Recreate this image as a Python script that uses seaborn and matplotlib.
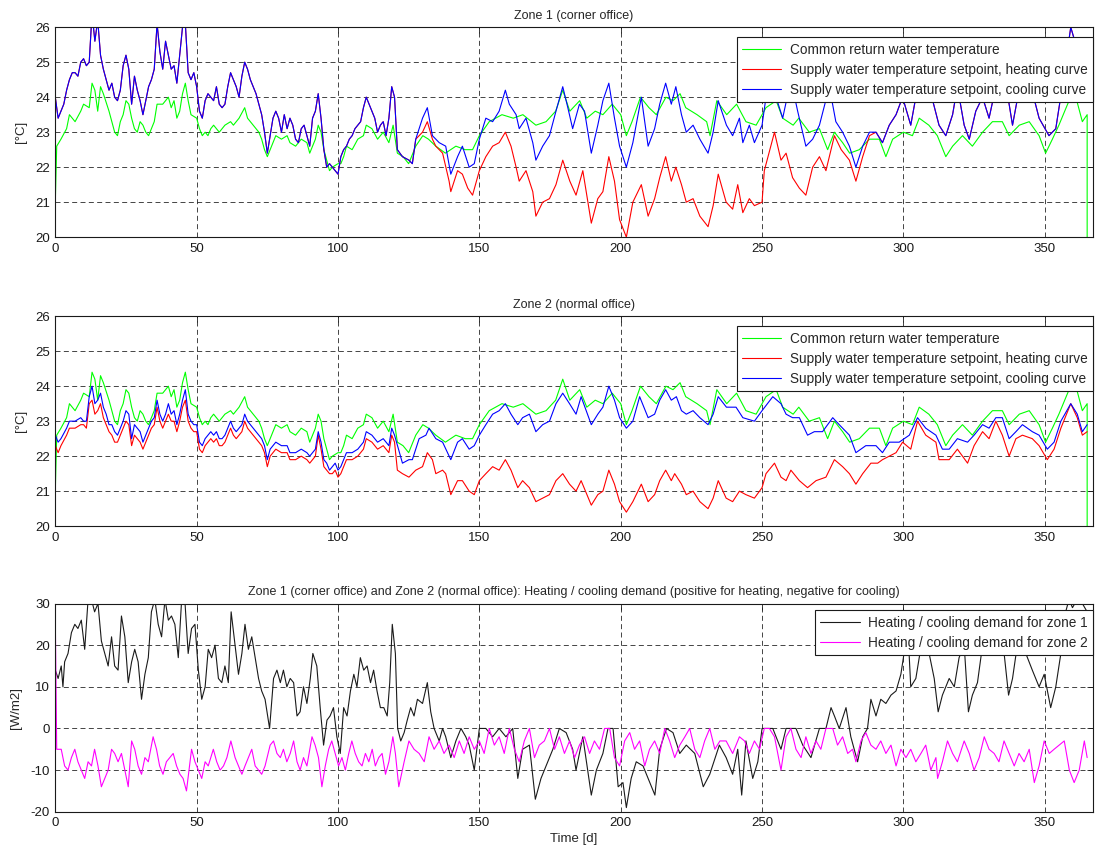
import numpy as np
import matplotlib
matplotlib.use("Agg")
import matplotlib.pyplot as plt
import seaborn as sns

# ---- data (time in days) ----

# common return water temperature (same in zone 1 and zone 2 plots)
ret_day = [0, 0.5, 2, 4, 5, 7, 9, 10, 12, 13,
           14, 15, 16, 17, 19, 20, 21, 22, 23, 24,
           25, 26, 27, 28, 29, 30, 31, 32, 33, 34,
           35, 36, 38, 40, 41, 42, 43, 44, 45, 46,
           47, 48, 50, 51, 52, 53, 54, 55, 56, 58,
           59, 60, 62, 63, 65, 67, 68, 70, 72, 73,
           74, 75, 76, 77, 78, 80, 82, 83, 85, 87,
           89, 90, 92, 93, 94, 95, 96, 97, 98, 100,
           101, 102, 103, 105, 107, 109, 110, 112, 114, 116,
           118, 119.5, 121, 123, 125, 127.5, 130, 132, 134.6, 138,
           141.7, 145, 147.6, 150, 153.5, 158, 162, 165.4, 170, 173.6,
           177, 179.5, 182, 185.5, 188, 191, 193.7, 197, 200, 202,
           204, 207, 210, 212.6, 216, 218.5, 221, 223, 227, 230.4,
           231.6, 234, 237.5, 241, 244.3, 247.9, 251.4, 255, 257.3, 261,
           263, 266.7, 270.3, 273.2, 275.6, 278.5, 281, 284.4, 288, 291.5,
           293.8, 296.2, 300, 303.2, 305.6, 309, 312, 315, 317.4, 320.9,
           324.4, 328, 331.5, 335, 337.4, 341, 344.5, 348, 350.3, 352.7,
           355, 358.6, 361, 363.3, 365, 365]
ret_val = [21.0, 22.6, 22.8, 23.1, 23.5, 23.3, 23.6, 23.8, 23.7, 24.4,
           24.2, 23.6, 24.3, 24.1, 23.6, 23.3, 23.0, 22.9, 23.3, 23.5,
           23.9, 23.8, 23.4, 23.1, 23.0, 23.3, 23.2, 23.0, 22.9, 23.1,
           23.3, 23.8, 23.8, 24.0, 23.7, 23.9, 23.4, 23.6, 24.1, 24.4,
           23.9, 23.5, 23.4, 23.1, 22.9, 23.0, 22.9, 23.1, 23.2, 23.0,
           23.1, 23.2, 23.3, 23.2, 23.4, 23.7, 23.4, 23.2, 23.0, 22.8,
           22.5, 22.3, 22.5, 22.7, 22.9, 22.8, 22.9, 22.7, 22.6, 22.8,
           22.7, 22.4, 22.8, 23.2, 23.0, 22.5, 22.2, 21.9, 22.0, 22.1,
           22.1, 22.3, 22.6, 22.5, 22.8, 22.9, 23.2, 23.1, 22.8, 23.0,
           22.7, 23.2, 22.4, 22.3, 22.1, 22.6, 22.9, 22.8, 22.6, 22.4,
           22.6, 22.5, 22.5, 22.9, 23.3, 23.5, 23.4, 23.5, 23.2, 23.3,
           23.6, 24.2, 23.6, 23.9, 23.4, 23.6, 23.5, 23.8, 23.5, 22.9,
           23.3, 24.0, 23.7, 23.5, 24.0, 23.9, 24.1, 23.7, 23.5, 23.3,
           22.9, 23.9, 23.5, 23.8, 23.3, 23.2, 23.7, 23.9, 23.4, 23.2,
           23.4, 23.0, 23.1, 22.5, 23.0, 22.7, 22.4, 22.5, 22.8, 22.8,
           22.3, 22.8, 23.0, 22.9, 23.4, 23.2, 22.9, 22.3, 22.6, 22.9,
           22.6, 23.0, 23.3, 23.3, 22.9, 23.2, 23.3, 22.9, 22.4, 22.8,
           23.2, 23.9, 24.0, 23.3, 23.5, 20.0]

# zone 1: cooling curve setpoint (daily values first, then read points)
cool1_day = list(range(121)) + [
    121, 122.8, 125.1, 126.3, 127.5, 129.9, 131.6, 133.4, 135.8, 138.1,
    139.9, 142.3, 144, 146.4, 148.2, 150, 152.3, 154.7, 157, 159.2,
    160.6, 163, 164.1, 166.5, 168.9, 170, 172.4, 174.8, 177.1, 179.5,
    181.3, 183, 185.4, 187.2, 189.6, 191.9, 193.7, 195.8, 197.8, 199.6,
    202, 204.3, 207.3, 209.7, 212, 213.8, 215.9, 217.9, 219.5, 221.5,
    223.2, 225.6, 228, 230.9, 232.7, 234.5, 237.4, 239.6, 242, 243.2,
    245.5, 247.3, 250, 251.4, 253.8, 257.3, 260.2, 262.6, 265.5, 267.9,
    270.3, 273.8, 276.1, 278.5, 280.9, 283.2, 285.6, 288, 290.3, 292.6,
    295, 297.4, 299.7, 302.6, 304.4, 306.8, 309.1, 312.6, 315, 317.4,
    319.1, 321.5, 323.3, 325.6, 328, 330.3, 332.7, 336.2, 338.6, 340.9,
    344.5, 348, 351.5, 353.9, 356.2, 359.2, 361, 363.3, 365]
cool1_val = [
    24.0, 23.4, 23.6, 23.8, 24.2, 24.5, 24.7, 24.7, 24.6, 25.0,
    25.1, 24.9, 25.0, 26.4, 25.6, 26.2, 25.2, 24.8, 24.5, 24.2,
    24.4, 24.0, 23.9, 24.2, 24.9, 25.2, 24.8, 23.8, 24.6, 24.2,
    23.9, 23.5, 23.9, 24.3, 24.5, 24.8, 26.1, 25.3, 24.8, 25.6,
    25.2, 24.8, 24.9, 24.4, 25.2, 26.0, 26.1, 24.7, 24.5, 24.7,
    24.3, 23.6, 23.4, 23.9, 24.1, 24.0, 23.9, 24.3, 23.8, 23.7,
    23.8, 24.3, 24.7, 24.5, 24.3, 24.0, 24.6, 25.0, 24.8, 24.5,
    24.3, 24.1, 23.8, 23.5, 23.0, 22.4, 22.9, 23.4, 23.6, 23.4,
    23.0, 23.5, 23.1, 23.4, 23.2, 22.8, 22.7, 23.1, 23.2, 22.9,
    22.6, 23.4, 23.6, 24.1, 23.4, 22.5, 22.0, 22.1, 22.0, 21.9,
    21.8, 22.3, 22.5, 22.6, 22.8, 22.9, 23.1, 23.2, 23.3, 23.7,
    24.0, 23.8, 23.6, 23.4, 23.0, 23.2, 23.3, 22.9, 23.4, 24.3,
    24.0,
    22.5, 22.3, 22.2, 22.1, 22.8, 23.4, 23.7, 22.9, 22.7, 22.6,
    21.8, 22.3, 22.6, 22.0, 22.1, 22.8, 23.4, 23.3, 23.6, 24.2,
    23.8, 23.5, 23.1, 23.4, 22.7, 22.2, 22.6, 22.9, 23.6, 24.3,
    23.7, 23.1, 23.8, 23.6, 22.4, 23.2, 23.9, 24.4, 23.4, 22.6,
    22.0, 22.7, 24.0, 22.6, 23.1, 23.8, 24.4, 23.8, 24.3, 23.5,
    23.0, 23.2, 22.8, 22.4, 23.0, 23.9, 23.2, 22.9, 23.4, 22.7,
    23.2, 22.7, 23.2, 24.0, 24.3, 23.4, 24.5, 23.6, 22.6, 22.8,
    23.2, 24.3, 23.3, 23.0, 22.6, 22.0, 22.6, 23.0, 23.0, 22.7,
    23.2, 23.5, 24.0, 23.2, 24.0, 24.4, 24.3, 23.2, 22.9, 23.5,
    24.3, 23.2, 22.8, 23.6, 24.0, 23.4, 24.3, 24.4, 23.2, 24.2,
    24.5, 23.4, 22.9, 23.1, 24.3, 26.0, 25.5, 24.3, 24.0]

# zone 1: heating curve setpoint where it departs from the cooling curve
heat1_day = [129.9, 131.6, 133.4, 134.6, 137, 139.3, 139.9, 142.3, 144, 145.9,
             147.6, 150, 152.3, 154.7, 157, 159.2, 161.2, 163, 164.1, 166.5,
             168.9, 170, 172.4, 174.8, 177.1, 179.5, 182, 184.2, 186.6, 189.6,
             191.9, 193.7, 195.8, 197.8, 199.6, 202, 204.3, 207.3, 209.7, 212,
             213.8, 215.9, 217.9, 219.5, 221.5, 223.2, 225.6, 228, 230.9, 232.7,
             234.5, 237.3, 239.6, 241.4, 243.2, 245.5, 247.3, 250, 250.8, 254.4,
             256.7, 258.5, 260.8, 263.2, 265.5, 267.9, 270.3, 272.6, 275.6, 278,
             280.9, 283.2, 285.6, 288, 290.3]
heat1_val = [23.0, 23.3, 22.8, 22.6, 22.4, 21.6, 21.3, 21.9, 21.8, 21.4,
             21.2, 21.9, 22.3, 22.6, 22.7, 23.0, 22.6, 22.0, 21.6, 21.9,
             21.3, 20.6, 21.0, 21.1, 21.5, 22.2, 21.6, 21.2, 21.9, 20.4,
             21.1, 21.3, 22.3, 21.6, 20.5, 20.0, 21.0, 21.5, 20.6, 21.1,
             21.7, 22.3, 21.6, 22.0, 21.5, 21.0, 21.1, 20.6, 20.3, 20.9,
             21.8, 21.0, 20.8, 21.5, 20.7, 21.1, 20.9, 21.0, 21.9, 23.0,
             22.2, 22.4, 21.7, 21.4, 21.2, 22.0, 22.3, 21.9, 22.9, 22.5,
             22.2, 21.6, 22.3, 22.9, 23.0]

# zone 2: winter part (shared days for both curves)
z2w_day = [0, 1, 2, 4, 5, 7, 9, 10, 11] + list(range(12, 61)) + [
    62, 63, 64, 65, 66, 67, 68, 70, 72, 73, 74, 75, 76, 77, 78,
    80, 82, 83, 85, 87, 89, 90, 92] + list(range(93, 104)) + [
    105, 107, 109, 110, 112, 114, 116, 118, 119, 120]
cool2w_val = [22.6, 22.4, 22.5, 22.8, 23.0, 23.0, 23.1, 23.0, 23.0, 23.7,
              24.0, 23.5, 23.6, 23.8, 23.4, 23.2, 22.9, 22.9, 22.7, 22.6,
              22.8, 23.0, 23.3, 23.2, 22.5, 22.9, 22.8, 22.7, 22.4, 22.6,
              22.8, 23.0, 23.1, 23.6, 23.2, 23.0, 23.2, 23.5, 23.2, 23.3,
              22.9, 23.2, 23.6, 23.9, 23.2, 23.0, 22.9, 22.9, 22.4, 22.3,
              22.5, 22.6, 22.7, 22.6, 22.7, 22.5, 22.5, 22.6, 23.0, 22.8,
              22.7, 22.8, 22.9, 23.2, 23.0, 22.8, 22.6, 22.5, 22.3, 21.9,
              22.2, 22.3, 22.4, 22.3, 22.3, 22.1, 22.1, 22.2, 22.1, 22.0,
              22.2, 22.7, 22.4, 21.9, 21.8, 21.6, 21.7, 21.8, 21.6, 21.7,
              21.9, 22.1, 22.1, 22.2, 22.4, 22.7, 22.6, 22.4, 22.5, 22.3,
              22.8, 22.6]
heat2w_val = [22.3, 22.1, 22.3, 22.6, 22.8, 22.8, 22.9, 22.9, 22.8, 23.5,
              23.6, 23.2, 23.3, 23.5, 23.1, 22.9, 22.7, 22.6, 22.4, 22.4,
              22.6, 22.8, 23.0, 22.9, 22.3, 22.6, 22.5, 22.4, 22.2, 22.4,
              22.6, 22.8, 22.9, 23.4, 23.0, 22.8, 23.0, 23.2, 23.0, 23.0,
              22.7, 23.0, 23.4, 23.6, 23.0, 22.8, 22.7, 22.7, 22.2, 22.1,
              22.3, 22.4, 22.5, 22.4, 22.5, 22.3, 22.3, 22.4, 22.8, 22.6,
              22.5, 22.6, 22.7, 23.0, 22.8, 22.6, 22.4, 22.3, 22.1, 21.7,
              22.0, 22.1, 22.2, 22.1, 22.1, 21.9, 21.9, 22.0, 21.9, 21.8,
              22.0, 22.6, 22.2, 21.7, 21.6, 21.5, 21.5, 21.6, 21.4, 21.5,
              21.7, 21.9, 21.9, 22.0, 22.2, 22.5, 22.4, 22.2, 22.3, 22.1,
              22.6, 22.4]

# zone 2: rest of the year
cool2_day = [122.8, 125.1, 126.3, 128.7, 131.1, 132.2, 134.6, 137, 139.9, 142.3,
             144, 146.4, 148.2, 150, 152.3, 154.7, 157, 159.2, 161.2, 163.6,
             165.3, 167.7, 170, 172.4, 174.8, 177.1, 179.5, 181.9, 184.2, 186,
             189.6, 191.9, 193.7, 195.8, 197.8, 199.6, 202, 204.3, 206.7, 209.7,
             212, 213.8, 215.9, 217.9, 219.7, 221.5, 223.2, 225.6, 228, 230.9,
             232.7, 234.5, 237.4, 240.8, 243.2, 247.3, 250, 253.8, 256.7, 258.5,
             260.8, 263.2, 266.1, 268.5, 271.4, 275, 277.3, 280.9, 283.2, 286.7,
             290.3, 292.6, 295, 298.5, 302.1, 305, 307.9, 311.5, 313.8, 316.2,
             319.1, 322.7, 325, 328, 330.3, 332.7, 335, 337.4, 339.8, 342.1,
             345.6, 348, 350.9, 353.3, 355.7, 359.2, 361.5, 363.3, 365]
cool2_val = [21.8, 21.9, 21.9, 22.5, 22.6, 22.8, 22.5, 22.4, 21.9, 22.4,
             22.5, 22.2, 22.3, 22.6, 22.9, 23.2, 23.3, 23.5, 23.2, 22.9,
             23.1, 23.2, 22.7, 22.9, 23.0, 23.5, 23.8, 23.5, 23.2, 23.7,
             22.9, 23.2, 23.4, 24.0, 23.6, 23.1, 22.8, 23.0, 23.7, 23.1,
             23.2, 23.6, 23.9, 23.6, 23.7, 23.3, 23.2, 23.3, 23.1, 22.9,
             23.2, 23.7, 23.4, 23.4, 23.1, 23.0, 23.3, 23.7, 23.5, 23.2,
             23.1, 23.1, 22.6, 22.7, 22.7, 23.1, 22.9, 22.6, 22.1, 22.3,
             22.3, 22.1, 22.4, 22.4, 22.6, 23.1, 22.8, 22.6, 22.2, 22.2,
             22.5, 22.4, 22.6, 22.9, 22.8, 23.1, 23.1, 22.5, 22.7, 22.9,
             22.7, 22.6, 22.2, 22.4, 23.0, 23.5, 23.2, 22.7, 22.9]
heat2_day = [121, 122.8, 125.1, 127.5, 129.9, 131.6, 133.4, 134.6, 137, 138.1,
             139.9, 142.3, 144, 146.4, 148.2, 150, 152.3, 154.7, 157, 159.2,
             161.2, 163.6, 165.3, 167.7, 170, 172.4, 174.8, 177.1, 179.5, 181.9,
             184.2, 186, 189.6, 191.9, 193.7, 195.8, 197.8, 199.6, 202, 204.3,
             207.3, 209.7, 212, 213.8, 215.9, 217.9, 219.1, 221.5, 223.2, 225.6,
             228, 230.9, 232.7, 234.5, 237.3, 239.6, 242, 244.3, 247.3, 250,
             251.4, 254.4, 256.7, 258.5, 260.2, 263.2, 266.1, 269.1, 272.6, 275.6,
             278.5, 280.9, 283.2, 285.6, 288.5, 290.9, 292.6, 295, 297.4, 299.7,
             302.6, 305, 307.9, 311.5, 312.6, 316.2, 319.1, 322.7, 325, 328,
             330.3, 332.7, 335, 337.4, 339.8, 342.1, 345.6, 348, 350.9, 353.3,
             355.7, 359.2, 361.5, 363.3, 365]
heat2_val = [21.6, 21.5, 21.4, 21.6, 21.7, 22.1, 21.9, 21.5, 21.6, 21.5,
             20.9, 21.3, 21.3, 21.0, 20.9, 21.3, 21.5, 21.7, 21.6, 21.9,
             21.6, 21.1, 21.3, 21.1, 20.7, 20.8, 20.9, 21.3, 21.5, 21.2,
             21.0, 21.3, 20.6, 20.9, 21.0, 21.6, 21.2, 20.7, 20.4, 20.7,
             21.2, 20.7, 20.9, 21.3, 21.6, 21.3, 21.5, 21.2, 20.9, 21.0,
             20.7, 20.5, 20.8, 21.3, 20.8, 20.7, 21.0, 20.9, 20.8, 21.1,
             21.5, 21.8, 21.4, 21.3, 21.6, 21.3, 21.1, 21.3, 21.4, 21.9,
             21.7, 21.5, 21.2, 21.5, 21.8, 21.8, 21.9, 22.0, 22.1, 22.4,
             22.2, 23.0, 22.6, 22.4, 21.9, 21.9, 22.2, 21.8, 22.3, 22.7,
             22.5, 23.0, 22.6, 22.0, 22.5, 22.6, 22.5, 22.3, 21.9, 22.2,
             22.8, 23.5, 23.1, 22.6, 22.7]

# heating / cooling demand [W/m2]
dem1_day = [0, 1, 2.1, 2.7, 3.3, 4.5, 5.7, 6.9, 8.0, 9.2,
            10.4, 11.6, 12.8, 13.9, 15.1, 16.3, 17.5, 18.7, 19.9, 21.0,
            22.2, 23.4, 24.6, 25.8, 27.0, 28.1, 29.3, 30.5, 31.7, 32.9,
            34.0, 35.2, 36.4, 37.6, 38.8, 40.0, 41.1, 42.3, 43.5, 44.7,
            45.9, 47.0, 48.2, 49.4, 50.6, 51.8, 53.0, 54.1, 55.3, 56.5,
            57.7, 58.9, 60.0, 61.2, 62.2, 63.6, 64.8, 66.0, 67.1, 68.3,
            69.5, 70.7, 71.9, 73.0, 74.2, 75.8, 77.2, 78.4, 79.6, 80.7,
            81.9, 83.1, 84.3, 85.5, 86.6, 87.8, 89.0, 90.2, 91.1, 92.5,
            93.7, 94.9, 96.1, 97.2, 98.4, 99.6, 100.8, 102.0, 103.2, 104.4,
            105.6, 106.7, 107.9, 109.1, 110.3, 111.5, 112.6, 113.8, 115.0, 116.2,
            117.4, 118.3, 119.2, 120.3, 121.1, 122.2, 123.4, 124.5, 125.7, 126.9,
            128.1, 129.9, 131.6, 132.8, 134, 135.8, 137, 138.1, 139.9, 141.7,
            143.5, 145.2, 146.4, 148.2, 150, 152.3, 154.7, 157, 159.4, 161.8,
            163.6, 165.3, 167.7, 169.8, 171.8, 173.6, 176, 178.3, 180.7, 183,
            184.2, 186.6, 189.6, 191.4, 193.7, 195.5, 197.3, 199.1, 200.8, 202,
            203.7, 205.5, 207.9, 209.7, 212.1, 213.8, 216.2, 218.5, 220.9, 223.2,
            226.2, 229.2, 231.5, 233.9, 234.9, 237.3, 239.6, 241.4, 242.8, 244.3,
            246.7, 248.5, 250, 253.8, 256.7, 258.5, 262, 264.4, 267.3, 270.3,
            272.6, 274.4, 275.6, 277.3, 279.7, 281.4, 283.8, 285.6, 287.3, 288.5,
            290.3, 292, 293.8, 295.6, 297.4, 299.1, 300, 301.5, 302.6, 304.4,
            306.8, 309.1, 310.9, 312.3, 313.8, 316.2, 318, 319.7, 321.5, 323,
            324.4, 326.2, 328, 330.3, 332.7, 335, 337.2, 338.6, 340.3, 343.3,
            345.6, 348, 349.8, 352.1, 353.9, 355.7, 357.4, 358.6, 359.8, 361.5,
            363.3, 365]
dem1_val = [14, 12, 15, 10, 16, 18, 23, 25, 24, 26,
            19, 31, 31, 28, 30, 21, 18, 15, 22, 15,
            14, 27, 22, 11, 16, 19, 16, 7, 13, 17,
            28, 31, 25, 22, 31, 26, 27, 25, 17, 31,
            30, 18, 24, 25, 14, 7, 10, 19, 17, 20,
            12, 11, 15, 11, 28, 20, 13, 18, 25, 19,
            22, 17, 12, 9, 7, 0, 12, 14, 11, 14,
            10, 12, 11, 3, 4, 10, 6, 12, 18, 15,
            5, -4, 2, 3, 5, -2, -6, 5, 3, 9,
            13, 10, 17, 14, 15, 11, 14, 9, 5, 5,
            3, 11, 25, 18, 0, -3, -1, 2, 5, 3,
            7, 6, 11, 4, 0, -3, 0, -2, -7, -3,
            0, -2, -4, -10, 0, 0, -2, 0, -2, 0,
            -12, -5, -4, -17, -12, -9, -5, 0, -1, -5,
            -10, -2, -16, -10, -6, 0, 0, -14, -13, -19,
            -12, -8, -9, -12, -16, -5, 0, -1, -6, -4,
            -6, -14, -11, -6, -4, -7, -11, -5, -16, -3,
            -12, -8, 0, 0, -5, 0, 0, -4, -7, 0,
            0, 5, 3, 0, 5, -2, -8, -2, 0, 7,
            3, 7, 6, 8, 9, 13, 17, 25, 10, 12,
            22, 18, 12, 4, 8, 12, 10, 17, 20, 4,
            8, 11, 20, 22, 20, 22, 8, 12, 20, 18,
            14, 10, 13, 5, 10, 18, 28, 31, 29, 31,
            30, 28]

dem2_day = [0, 0.5, 2.1, 3.3, 4.5, 5.7, 6.9, 8.0, 9.2, 10.4,
            11.6, 12.8, 13.9, 15.1, 16.3, 17.5, 18.7, 19.9, 21.0, 22.2,
            23.4, 24.6, 25.8, 27.0, 28.1, 29.3, 30.5, 31.7, 32.9, 34.6,
            35.8, 36.9, 38.1, 39.3, 40.5, 41.7, 42.9, 44.1, 45.2, 46.4,
            48.2, 49.4, 50.6, 51.8, 53.0, 54.1, 55.9, 57.1, 58.3, 59.5,
            60.7, 62.1, 63.6, 64.8, 66.0, 67.1, 68.3, 69.5, 70.7, 71.9,
            73.0, 74.2, 76.0, 77.2, 78.4, 79.6, 80.7, 81.9, 83.1, 84.3,
            85.5, 86.6, 87.8, 89.0, 90.8, 91.9, 93.1, 94.3, 95.5, 96.7,
            97.8, 99.0, 100.2, 101.4, 102.6, 103.8, 104.9, 106.1, 107.3, 108.5,
            109.7, 110.9, 112.1, 113.2, 114.4, 115.6, 116.8, 118.0, 119.4, 120.3,
            121.5, 123.4, 125.1, 126.9, 128.7, 130.5, 132.2, 134, 135.8, 137.5,
            139.3, 141.1, 142.9, 144.6, 146.4, 148.2, 150, 151.7, 153.5, 155.3,
            157, 158.8, 160.6, 162.4, 164.1, 165.9, 167.7, 169.5, 171.2, 173,
            174.8, 176.6, 178.3, 180.1, 181.9, 183.7, 185.4, 187.2, 189, 190.7,
            192.5, 194.3, 196.1, 197.8, 199.6, 201.4, 203.2, 204.9, 206.7, 208.5,
            210.2, 212, 213.8, 215.6, 217.3, 219.1, 220.9, 222.7, 224.4, 226.2,
            228, 229.7, 231.5, 233.3, 235.1, 237.3, 239.6, 242, 243.8, 245.5,
            247.3, 249.1, 250.8, 252.6, 254.4, 256.7, 258.5, 260.2, 262, 263.8,
            265.5, 267.3, 269.1, 270.8, 272.6, 275, 276.7, 278.5, 280.3, 282,
            283.2, 285, 286.7, 288.5, 290.3, 292, 293.8, 295.6, 297.4, 299.1,
            300.9, 302.6, 304.4, 306.2, 307.9, 309.7, 311.5, 312.1, 313.8, 315.6,
            317.4, 319.1, 321.5, 323.3, 325, 326.8, 328.6, 330.3, 332.1, 333.8,
            335.6, 337.4, 339.2, 340.9, 342.7, 344.5, 346.3, 348, 349.8, 351.6,
            353.3, 355.1, 356.9, 358.7, 360.4, 362.2, 364, 365]
dem2_val = [26, -5, -5, -9, -10, -7, -5, -8, -10, -12,
            -8, -9, -5, -9, -14, -12, -10, -5, -6, -8,
            -6, -10, -14, -3, -5, -9, -11, -7, -8, -2,
            -5, -9, -11, -8, -7, -6, -9, -11, -12, -15,
            -5, -8, -10, -12, -8, -9, -5, -8, -10, -9,
            -7, -3, -7, -9, -11, -9, -7, -5, -9, -10,
            -11, -9, -4, -3, -6, -7, -5, -8, -6, -3,
            -8, -10, -7, -9, -2, -4, -7, -14, -9, -5,
            -3, -6, -9, -7, -10, -6, -3, -6, -8, -9,
            -6, -8, -5, -9, -7, -6, -11, -8, -2, -6,
            -14, -8, -3, -5, -6, -8, -2, -5, -3, -6,
            -4, -7, -3, -6, -2, -5, -3, -6, 0, -4,
            -2, -6, 0, -5, -8, -3, 0, -7, -4, -3,
            0, -5, -2, -6, -3, -7, -4, -2, -6, -3,
            -5, 0, 0, -7, -9, -3, -1, -5, -3, -9,
            -5, -3, -6, 0, -3, -7, -4, -2, 0, -5,
            -7, -3, 0, -5, -3, -3, -6, -2, -3, -6,
            -3, -5, 0, 0, -2, -10, -2, 0, -5, -7,
            -2, -6, -3, -5, 0, 0, -4, -2, -6, -5,
            -8, -3, -1, -4, -5, -3, -6, -4, -9, -5,
            -7, -5, -8, -6, -4, -10, -7, -12, -8, -3,
            -6, -8, -3, -6, -10, -7, -2, -5, -6, -8,
            -3, -6, -9, -6, -8, -5, -13, -9, -3, -6,
            -5, -4, -3, -10, -13, -10, -3, -7]

# ---- assemble series ----
cool1_day = np.array(cool1_day, float)
cool1_val = np.array(cool1_val, float)
before = cool1_day < heat1_day[0]
after = cool1_day > heat1_day[-1]
heat1_d = np.r_[cool1_day[before], heat1_day, cool1_day[after]]
heat1_v = np.r_[cool1_val[before], heat1_val, cool1_val[after]]

cool2_d = np.r_[z2w_day, cool2_day]
cool2_v = np.r_[cool2w_val, cool2_val]
heat2_d = np.r_[z2w_day, heat2_day]
heat2_v = np.r_[heat2w_val, heat2_val]

lab_ret = "Common return water temperature"
lab_heat = "Supply water temperature setpoint, heating curve"
lab_cool = "Supply water temperature setpoint, cooling curve"

sns.set_theme(style="white")
plt.rcParams["font.family"] = ["Liberation Sans", "DejaVu Sans"]
plt.rcParams["axes.linewidth"] = 0.8
plt.rcParams["axes.unicode_minus"] = False

fig = plt.figure(figsize=(10.95, 8.5), dpi=100)
ax1 = fig.add_axes([0.0505, 0.721, 0.9475, 0.247])
ax2 = fig.add_axes([0.0505, 0.381, 0.9475, 0.247])
ax3 = fig.add_axes([0.0505, 0.045, 0.9475, 0.245])

lw = 0.8
sns.lineplot(x=ret_day, y=ret_val, ax=ax1, color=(0, 1, 0), lw=lw, label=lab_ret, estimator=None, sort=False)
sns.lineplot(x=heat1_d, y=heat1_v, ax=ax1, color=(1, 0, 0), lw=lw, label=lab_heat, estimator=None, sort=False)
sns.lineplot(x=cool1_day, y=cool1_val, ax=ax1, color=(0, 0, 1), lw=lw, label=lab_cool, estimator=None, sort=False)

sns.lineplot(x=ret_day, y=ret_val, ax=ax2, color=(0, 1, 0), lw=lw, label=lab_ret, estimator=None, sort=False)
sns.lineplot(x=heat2_d, y=heat2_v, ax=ax2, color=(1, 0, 0), lw=lw, label=lab_heat, estimator=None, sort=False)
sns.lineplot(x=cool2_d, y=cool2_v, ax=ax2, color=(0, 0, 1), lw=lw, label=lab_cool, estimator=None, sort=False)

sns.lineplot(x=dem1_day, y=dem1_val, ax=ax3, color="k", lw=lw,
             label="Heating / cooling demand for zone 1", estimator=None, sort=False)
sns.lineplot(x=dem2_day, y=dem2_val, ax=ax3, color=(1, 0, 1), lw=lw,
             label="Heating / cooling demand for zone 2", estimator=None, sort=False)


def style(ax, ylim, yticks, title, ylabel, legend_top):
    ax.set_xlim(0, 367)
    ax.set_ylim(*ylim)
    ax.set_xticks(range(0, 351, 50))
    ax.set_yticks(yticks)
    ax.set_axisbelow(True)
    ax.grid(True, ls=(0, (6, 4)), color="0.15", lw=0.6)
    ax.tick_params(direction="in", top=True, right=True, length=4, width=0.6,
                   labelsize=9.5, pad=4, colors="k")
    for s in ax.spines.values():
        s.set_color("k")
        s.set_linewidth(0.8)
    ax.set_title(title, fontsize=9, pad=6)
    ax.set_ylabel(ylabel, fontsize=9.5, labelpad=6)
    ax.set_xlabel("")
    leg = ax.legend(loc="upper right", bbox_to_anchor=(1, legend_top), borderaxespad=0,
                    frameon=True, fancybox=False, framealpha=1, edgecolor="k",
                    fontsize=9.8, handlelength=2.9, handletextpad=0.6,
                    labelspacing=0.45, borderpad=0.4)
    leg.get_frame().set_linewidth(0.8)


style(ax1, (20, 26), range(20, 27), "Zone 1 (corner office)", "[°C]", 0.953)
style(ax2, (20, 26), range(20, 27), "Zone 2 (normal office)", "[°C]", 0.953)
style(ax3, (-20, 30), range(-20, 31, 10),
      "Zone 1 (corner office) and Zone 2 (normal office): Heating / cooling demand "
      "(positive for heating, negative for cooling)", "[W/m2]", 0.967)
ax3.set_xlabel("Time [d]", fontsize=9.5, labelpad=3)

fig.savefig("out.png", dpi=100)
